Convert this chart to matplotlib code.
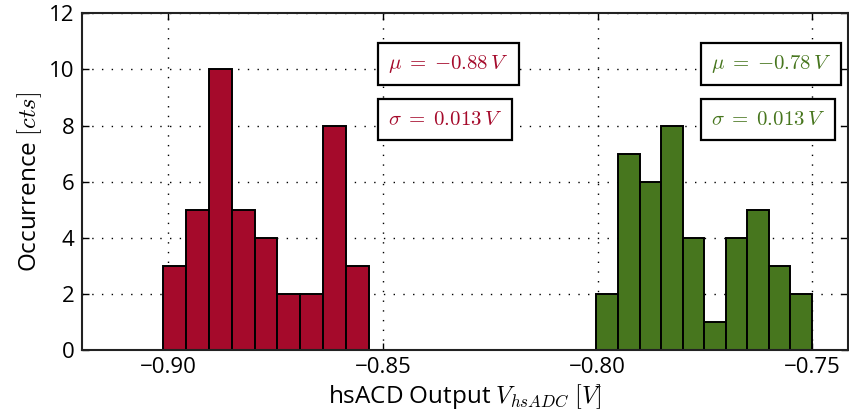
import numpy as np
import matplotlib
matplotlib.use("Agg")
import matplotlib.pyplot as plt

# Histogram counts per bin for the two ADC output clusters
red_counts = [3, 5, 10, 5, 4, 2, 2, 8, 3]
red_first_edge = -0.9012
red_last_edge = -0.8533

green_counts = [2, 7, 6, 8, 4, 1, 4, 5, 3, 2]
green_first_edge = -0.8003
green_last_edge = -0.7501

red_mu, red_sigma = -0.88, 0.013
green_mu, green_sigma = -0.78, 0.013

x_ticks = [-0.90, -0.85, -0.80, -0.75]
x_tick_labels = ["\u22120.90", "\u22120.85", "\u22120.80", "\u22120.75"]
y_ticks = [0, 2, 4, 6, 8, 10, 12]

RED = "#a50a2b"
GREEN = "#47761e"

plt.rcParams["mathtext.fontset"] = "cm"
plt.rcParams["font.family"] = ["Open Sans", "DejaVu Sans"]

fig = plt.figure(figsize=(8.49, 4.19), dpi=100)
ax = fig.add_axes([0.0962, 0.1647, 0.9026, 0.8036])


def draw_hist(counts, first, last, color):
    edges = np.linspace(first, last, len(counts) + 1)
    ax.bar(edges[:-1], counts, width=np.diff(edges), align="edge",
           color=color, edgecolor="black", linewidth=1.4, zorder=2)


draw_hist(red_counts, red_first_edge, red_last_edge, RED)
draw_hist(green_counts, green_first_edge, green_last_edge, GREEN)

ax.set_xlim(-0.9202, -0.7417)
ax.set_ylim(0, 12)
ax.set_xticks(x_ticks)
ax.set_xticklabels(x_tick_labels)
ax.set_yticks(y_ticks)
ax.tick_params(direction="in", top=True, right=True, length=5, width=1,
               labelsize=16, pad=5)
ax.grid(True, color="black", linestyle=(0, (1, 6)), linewidth=1.0)
ax.set_axisbelow(True)
for sp in ax.spines.values():
    sp.set_linewidth(1.5)
    sp.set_color("#222222")

ax.set_xlabel(r"hsACD Output $V_{hsADC}$ $[V]$", fontsize=17.5, labelpad=3)
ax.set_ylabel(r"Occurrence $[cts]$", fontsize=17.5, labelpad=4)

box = dict(boxstyle="square,pad=0.48", facecolor="white", edgecolor="black",
           linewidth=1.6)


def stats_text(x, mu, sigma, color):
    ax.text(x, 10.2, r"$\mu\;=\;{%.2f}\,V$" % mu, color=color, fontsize=15,
            ha="left", va="center", bbox=box, zorder=5)
    ax.text(x, 8.2, r"$\sigma\;=\;%.3f\,V$" % sigma, color=color, fontsize=15,
            ha="left", va="center", bbox=box, zorder=5)


stats_text(-0.8488, red_mu, red_sigma, RED)
stats_text(-0.7737, green_mu, green_sigma, GREEN)

fig.savefig("out.png", dpi=100)
